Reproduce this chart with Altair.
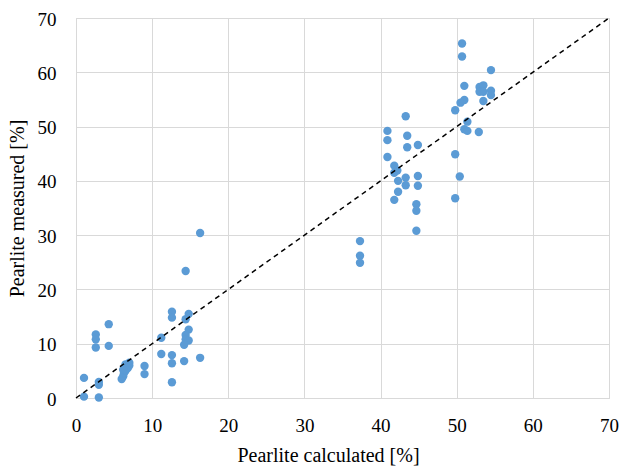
import altair as alt
import pandas as pd

calc = [
    4.3, 2.6, 2.6, 2.6, 4.3, 1.05, 1.05, 3.0, 3.0, 3.0,
    6.0, 6.2, 6.3, 6.5, 6.8, 7.0, 6.5, 7.0, 6.2,
    9.0, 9.0, 11.2, 11.2,
    12.6, 12.6, 12.6, 12.6, 12.6,
    16.3, 14.4, 14.8, 14.4, 14.8, 14.4, 14.4, 14.8, 14.2, 14.2, 16.3,
    37.3, 37.3, 37.3,
    43.3, 40.9, 40.9, 43.5, 43.5, 44.9, 40.9, 41.8, 41.8, 42.2, 43.3, 42.3,
    44.9, 43.3, 44.9, 42.3, 41.8, 44.7, 44.7, 44.7,
    50.7, 50.7, 54.5, 51.0, 53.0, 53.5, 53.0, 53.5, 54.5, 54.5, 53.5,
    51.0, 50.5, 49.8, 51.4, 51.0, 51.4, 52.9, 49.8, 50.4, 49.8,
]
meas = [
    13.6, 11.7, 10.8, 9.3, 9.6, 3.7, 0.25, 2.95, 2.45, 0.1,
    3.5, 4.0, 4.6, 5.0, 5.5, 6.0, 6.2, 6.5, 5.2,
    5.9, 4.4, 11.1, 8.1,
    15.9, 14.8, 7.9, 6.4, 2.9,
    30.4, 23.4, 15.5, 14.5, 12.6, 11.6, 10.8, 10.6, 9.8, 6.8, 7.4,
    28.9, 26.2, 24.9,
    51.9, 49.2, 47.5, 48.3, 46.2, 46.6, 44.4, 42.8, 41.5, 41.9, 40.6, 40.0,
    40.9, 39.2, 39.1, 38.0, 36.5, 35.7, 34.5, 30.8,
    65.3, 62.9, 60.4, 57.5, 57.3, 57.6, 56.4, 56.4, 56.6, 55.8, 54.7,
    54.9, 54.4, 53.0, 50.9, 49.5, 49.2, 49.0, 44.9, 40.8, 36.8,
]
line_x = [0, 70]

df = pd.DataFrame({"calc": calc, "meas": meas})
ldf = pd.DataFrame({"calc": line_x, "meas": line_x})

font = "Liberation Serif"
xs = alt.Scale(domain=[0, 70], nice=False)
ys = alt.Scale(domain=[0, 70], nice=False)

x_axis = alt.Axis(values=list(range(0, 71, 10)), title="Pearlite calculated [%]",
                  labelFont=font, labelFontSize=19, labelColor="#000000",
                  titleFont=font, titleFontSize=20, titleFontWeight="normal", titleColor="#000000",
                  gridColor="#d9d9d9", domainColor="#d9d9d9", ticks=False,
                  labelPadding=18, titlePadding=10, labelFlush=False, titleX=252)
y_axis = alt.Axis(values=list(range(0, 71, 10)), title="Pearlite measured [%]",
                  labelFont=font, labelFontSize=19, labelColor="#000000",
                  titleFont=font, titleFontSize=20, titleFontWeight="normal", titleColor="#000000",
                  gridColor="#d9d9d9", domainColor="#d9d9d9", ticks=False,
                  labelPadding=20, titlePadding=10, labelFlush=False, labelOffset=1)

points = alt.Chart(df).mark_circle(size=70, opacity=1, color="#5b9bd5").encode(
    x=alt.X("calc:Q", scale=xs, axis=x_axis),
    y=alt.Y("meas:Q", scale=ys, axis=y_axis),
)
line = alt.Chart(ldf).mark_line(color="#000000", strokeDash=[5, 4], strokeWidth=1.5).encode(
    x=alt.X("calc:Q", scale=xs),
    y=alt.Y("meas:Q", scale=ys),
)

chart = alt.layer(points, line).properties(
    width=533, height=380,
    autosize=alt.AutoSizeParams(type="none"),
    padding={"left": 76, "top": 18, "right": 15, "bottom": 73},
).configure_view(stroke="#d9d9d9").configure(background="white")

chart.save("out.html", embed_options={"renderer": "svg", "actions": False})
